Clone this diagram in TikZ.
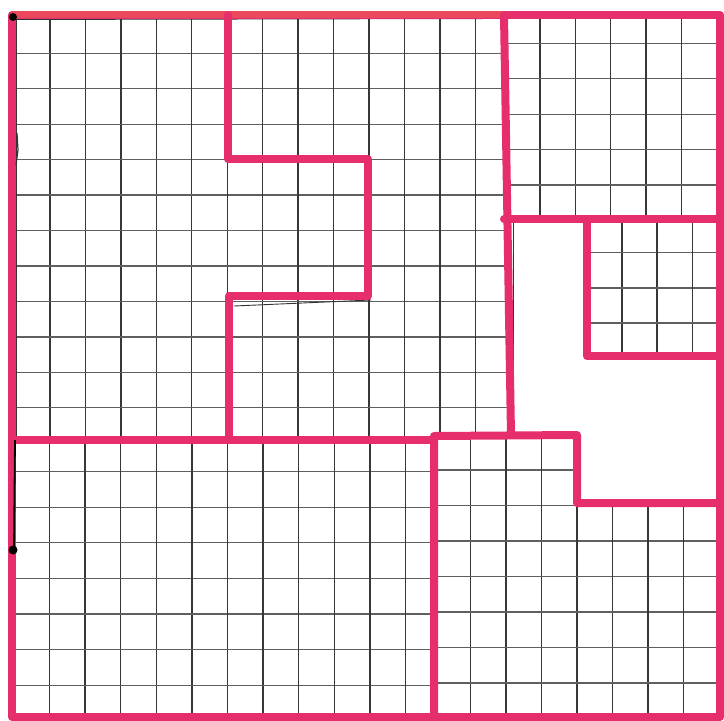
\documentclass[tikz,border=0pt]{standalone}
\definecolor{marker}{RGB}{230,46,108}
\definecolor{markertop}{RGB}{236,72,92}
\definecolor{gridink}{RGB}{55,55,55}
\tikzset{
  gridv/.style={draw=gridink, line width=1.4pt},
  gridh/.style={draw=gridink!80, line width=1.3pt},
  pinkline/.style={draw=marker, line width=8pt, line cap=round, line join=round},
  edgeline/.style={draw=black!80, line width=0.9pt},
}
\newcommand\paperGrid[3]{%
  \foreach \i in {-1,...,21}{%
    \draw[gridv] ({#1+\i*#3},0) -- ({#1+\i*#3},721);
    \draw[gridh] (0,{#2+\i*#3}) -- (724,{#2+\i*#3});
  }}
\begin{document}
\begin{tikzpicture}[x=1pt,y=-1pt]
\useasboundingbox (0,0) rectangle (724,721);
\fill[white] (0,0) rectangle (724,721);
% piece A: top-left and middle-top
\begin{scope}
  \clip (12,15) -- (505,15) -- (511,436) -- (12,440) -- cycle;
  \paperGrid{14.5}{17.8}{35.45}
\end{scope}
% top-right piece
\begin{scope}
  \clip (504,13) rectangle (720,219);
  \paperGrid{504.5}{8}{35.4}
\end{scope}
% small right piece
\begin{scope}
  \clip (587,219) rectangle (720,356);
  \paperGrid{586.7}{217.5}{35.2}
\end{scope}
% bottom-left piece
\begin{scope}
  \clip (12,440) rectangle (434,717);
  \paperGrid{13.8}{436}{35.6}
\end{scope}
% bottom-right piece
\begin{scope}
  \clip (434,436) -- (577,435) -- (577,503) -- (720,503) -- (720,717) -- (434,717) -- cycle;
  \paperGrid{435}{434.5}{35.5}
\end{scope}
% paper edges (thin dark lines)
\draw[edgeline] (15,19.5) -- (505,18.5);
\draw[edgeline] (16.5,19) -- (16.5,440);
\draw[edgeline] (513.5,222) -- (513.5,433);
\draw[edgeline] (579.5,437) -- (579.5,503);
\draw[edgeline] (579,506.5) -- (718,506.5);
\draw[edgeline] (436,713.5) -- (718,713.5);
\draw[edgeline] (716.5,505) -- (716.5,714);
\draw[edgeline] (234,306) -- (371,300);
\draw[edgeline] (506,216) -- (590,216);
% pink marker lines
\draw[pinkline] (12,717) -- (12,15) -- (720,15) -- (720,717) -- cycle;
\draw[draw=markertop, line width=7pt, line cap=round] (14,14) -- (505,14);
\draw[pinkline] (228,15) -- (228,159) -- (368,159) -- (368,296) -- (229,296) -- (229,440);
\draw[pinkline] (12,440) -- (434,440);
\draw[pinkline] (434,717) -- (434,436) -- (577,435) -- (577,503) -- (720,503);
\draw[pinkline] (504,15) -- (511,435);
\draw[pinkline] (504,219) -- (720,219);
\draw[pinkline] (587,219) -- (587,356) -- (720,356);
% black marks on the left edge
\fill[black] (13,17) circle (4);
\draw[black, line width=1.8pt] (15,440) -- (14,550);
\fill[black] (13,550) circle (4.5);
\draw[black!80, line width=1.2pt] (17,133) -- (18,150) -- (16,165);
\end{tikzpicture}
\end{document}
